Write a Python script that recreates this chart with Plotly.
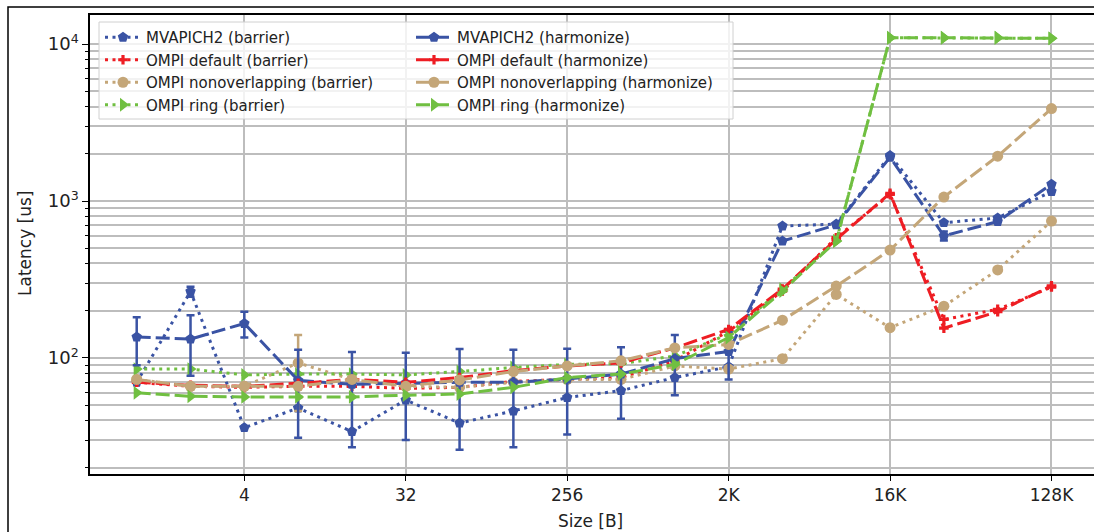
import math
import plotly.graph_objects as go

sizes = [2 ** k for k in range(18)]
tick_vals = [4, 32, 256, 2048, 16384, 131072]
tick_text = ["4", "32", "256", "2K", "16K", "128K"]

mv_bar = [70, 265, 36, 48, 34, 54, 38.5, 46, 56, 62, 75, 88, 693, 713, 1950, 728, 780, 1150]
mv_bar_err = [0, 19, 0, 0, 0, 0, 0, 0, 0, 0, 0, 0, 0, 0, 0, 0, 0, 0]
mv_har = [136, 132, 166, 72, 68, 69, 70, 70, 73.5, 79, 99, 110, 556, 705, 1900, 600, 740, 1280]
mv_har_err = [46, 55, 31, 41, 41, 39, 44, 43, 41, 38, 41, 37, 0, 0, 0, 40, 0, 0]

def_bar = [70, 66, 65, 66, 66, 64, 65, 71, 73, 75, 96, 148, 267, 584, 1100, 176, 204, 283]
def_har = [70, 67, 66, 69, 73, 70, 75, 83, 89, 93, 116, 152, 275, 570, 1120, 155, 197, 288]

non_bar = [73, 66, 66, 93, 73, 66, 65, 70, 73, 73, 89, 85, 99, 254, 156, 214, 364, 745]
non_bar_err = [0, 0, 0, 47, 0, 0, 0, 0, 0, 0, 0, 0, 0, 0, 0, 0, 0, 0]
non_har = [73, 66, 66, 66, 73, 66, 72.5, 82, 89, 96, 116, 122, 174, 287, 487, 1060, 1930, 3880]

ring_bar = [85, 85, 78, 79, 79, 78, 82, 87, 91, 92, 103, 142, 274, 556, 10970, 10970, 10970, 10870]
ring_har = [60, 57, 56.5, 56.5, 56.5, 58, 59, 65, 75, 79, 91, 135, 267, 556, 10970, 10970, 10970, 10870]

BLUE = "#3A53A4"
RED = "#EE1D23"
TAN = "#C4A678"
GREEN = "#70BF41"
DOT = "3px,4.5px"
DASH = "14px,5px"

series = [
    ("MVAPICH2 (barrier)", mv_bar, mv_bar_err, BLUE, "pentagon", 11, DOT, "legend"),
    ("OMPI default (barrier)", def_bar, None, RED, "cross", 8, DOT, "legend"),
    ("OMPI nonoverlapping (barrier)", non_bar, non_bar_err, TAN, "circle", 11, DOT, "legend"),
    ("OMPI ring (barrier)", ring_bar, None, GREEN, "triangle-right", 12, DOT, "legend"),
    ("MVAPICH2 (harmonize)", mv_har, mv_har_err, BLUE, "pentagon", 11, DASH, "legend2"),
    ("OMPI default (harmonize)", def_har, None, RED, "cross", 8, DASH, "legend2"),
    ("OMPI nonoverlapping (harmonize)", non_har, None, TAN, "circle", 11, DASH, "legend2"),
    ("OMPI ring (harmonize)", ring_har, None, GREEN, "triangle-right", 12, DASH, "legend2"),
]

fig = go.Figure()
for i, (name, vals, err, color, sym, msize, dash, leg) in enumerate(series):
    kw = {}
    if err is not None:
        kw["error_y"] = dict(type="data", array=err, symmetric=True, color=color,
                             thickness=2.5, width=4, visible=True)
    fig.add_trace(go.Scatter(
        x=sizes, y=vals, name=name, mode="lines+markers",
        line=dict(color=color, width=3, dash=dash),
        marker=dict(symbol=sym, size=msize, color=color, line=dict(width=0)),
        legend=leg, legendgroup=name, **kw))

# plot area in pixels: x 90..1094, y 15..474
PL, PR, PT, PB = 90, 1094, 15, 474
W, H = PR - PL, PB - PT
def px(x):
    return (x - PL) / W
def py(y):
    return (PB - y) / H

minor_y = [m * 10 ** e for e in range(1, 5) for m in range(2, 10)]

grid = "#BDBDBD"
legfont = dict(size=15, color="#222")
fig.update_layout(
    width=1094, height=532,
    margin=dict(l=PL, r=1094 - PR, t=PT, b=532 - PB),
    paper_bgcolor="white", plot_bgcolor="white",
    font=dict(family="DejaVu Sans", size=17, color="#222"),
    showlegend=True,
    legend=dict(x=px(100), y=py(21), xanchor="left", yanchor="top",
                bgcolor="rgba(0,0,0,0)", borderwidth=0, tracegroupgap=0,
                itemwidth=36, font=legfont),
    legend2=dict(x=px(411), y=py(21), xanchor="left", yanchor="top",
                 bgcolor="rgba(0,0,0,0)", borderwidth=0, tracegroupgap=0,
                 itemwidth=36, font=legfont),
    xaxis=dict(type="log",
               range=[math.log10(2 ** -0.868), math.log10(2 ** 17.79)],
               tickmode="array", tickvals=tick_vals, ticktext=tick_text,
               showgrid=True, gridcolor=grid, gridwidth=1.5,
               showline=True, linecolor="black", linewidth=1.5, mirror=True,
               ticks="outside", ticklen=5, tickwidth=1.2, tickcolor="black",
               tickfont=dict(size=17), zeroline=False),
    yaxis=dict(type="log", range=[1.261, 4.185],
               tickmode="array", tickvals=[100, 1000, 10000],
               ticktext=["10<sup>2</sup>", "10<sup>3</sup>", "10<sup>4</sup>"],
               showgrid=True, gridcolor=grid, gridwidth=1.5,
               showline=True, linecolor="black", linewidth=1.5, mirror=False,
               ticks="outside", ticklen=6, tickwidth=1.2, tickcolor="black",
               tickfont=dict(size=18), zeroline=False,
               minor=dict(tickmode="array", tickvals=minor_y, ticks="outside",
                          ticklen=3.5, tickwidth=1, tickcolor="black",
                          showgrid=True, gridcolor=grid, gridwidth=1.5)),
    shapes=[
        dict(type="rect", xref="paper", yref="paper", layer="above",
             x0=px(99), x1=px(733), y0=py(119), y1=py(22),
             fillcolor="rgba(255,255,255,0.8)", line=dict(color="#D0D0D0", width=1)),
        dict(type="rect", xref="paper", yref="paper", layer="above",
             x0=px(8), x1=px(1100), y0=py(540), y1=py(7),
             fillcolor="rgba(0,0,0,0)", line=dict(color="black", width=1.5)),
    ],
    annotations=[
        dict(text="Latency [us]", xref="paper", yref="paper", x=px(25), y=py(243),
             showarrow=False, textangle=-90, font=dict(size=17, color="#222"),
             xanchor="center", yanchor="middle"),
        dict(text="Size [B]", xref="paper", yref="paper", x=px(590), y=py(521),
             showarrow=False, font=dict(size=17, color="#222"),
             xanchor="center", yanchor="middle"),
    ],
)

fig.write_html("out.html")
